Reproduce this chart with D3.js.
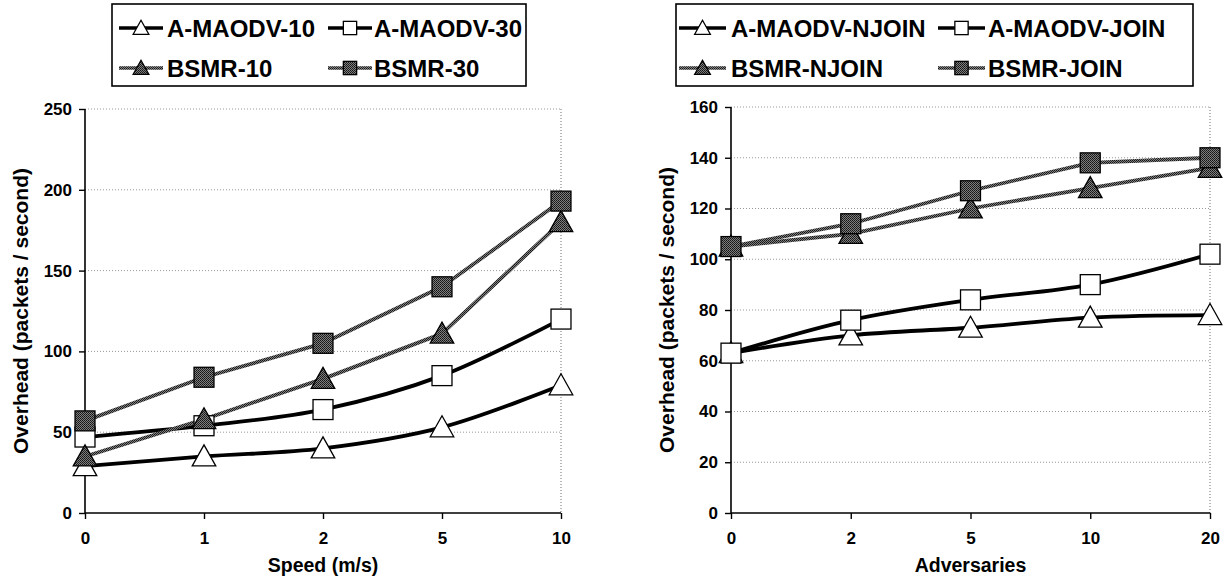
<!DOCTYPE html>
<html><head><meta charset="utf-8">
<script src="https://cdn.jsdelivr.net/npm/d3@7"></script>
<style>
html,body{margin:0;padding:0;background:#fff;}
text{font-family:"Liberation Sans",Arial,sans-serif;font-weight:bold;fill:#000;}
</style></head>
<body>
<svg id="c" width="1228" height="582"></svg>
<script>
// ---------- data ----------
const speedCats = ["0", "1", "2", "5", "10"];
const aMaodv10 = [29, 35, 40, 53, 79];
const aMaodv30 = [47, 54, 64, 85, 120];
const bsmr10   = [35, 58, 83, 111, 180];
const bsmr30   = [57, 84, 105, 140, 193];
const speedTicks = [0, 50, 100, 150, 200, 250];

const advCats = ["0", "2", "5", "10", "20"];
const aNjoin = [63, 70, 73, 77, 78];
const aJoin  = [63, 76, 84, 90, 102];
const bNjoin = [105, 110, 120, 128, 136];
const bJoin  = [105, 114, 127, 138, 140];
const advTicks = [0, 20, 40, 60, 80, 100, 120, 140, 160];

const leftNames  = ["A-MAODV-10", "A-MAODV-30", "BSMR-10", "BSMR-30"];
const rightNames = ["A-MAODV-NJOIN", "A-MAODV-JOIN", "BSMR-NJOIN", "BSMR-JOIN"];
const markerKinds = ["triOpen", "sqOpen", "triFill", "sqFill"];

// ---------- drawing ----------
const svg = d3.select("#c");
const defs = svg.append("defs");
const pat = defs.append("pattern").attr("id", "ht").attr("width", 2).attr("height", 2)
  .attr("patternUnits", "userSpaceOnUse");
pat.append("rect").attr("width", 2).attr("height", 2).attr("fill", "#7e7e7e");
pat.append("rect").attr("width", 1).attr("height", 1).attr("fill", "#141414");
pat.append("rect").attr("x", 1).attr("y", 1).attr("width", 1).attr("height", 1).attr("fill", "#242424");

function marker(g, kind, x, y, s) {
  const fill = kind.endsWith("Fill") ? "url(#ht)" : "#fff";
  if (kind.startsWith("tri")) {
    const w = s * 1.12, h = s;
    g.append("path")
      .attr("d", `M${x},${y - h * 0.55} L${x + w / 2},${y + h * 0.45} L${x - w / 2},${y + h * 0.45} Z`)
      .attr("fill", fill).attr("stroke", "#000").attr("stroke-width", 1.3);
  } else {
    const w = s * 0.95;
    g.append("rect").attr("x", x - w / 2).attr("y", y - w / 2).attr("width", w).attr("height", w)
      .attr("fill", fill).attr("stroke", "#000").attr("stroke-width", 1.3);
  }
}

function chart(cfg) {
  const g = svg.append("g");
  const x = d3.scalePoint().domain(cfg.cats).range([cfg.x0, cfg.x1]);
  const y = d3.scaleLinear().domain([0, cfg.ymax]).range([cfg.y0, cfg.y1]);

  // gridlines
  g.append("g").selectAll("line").data(cfg.ticks.filter(t => t > 0)).join("line")
    .attr("x1", cfg.x0).attr("x2", cfg.x1).attr("y1", d => y(d)).attr("y2", d => y(d))
    .attr("stroke", "#999").attr("stroke-width", 1).attr("stroke-dasharray", "1,2");
  // right border
  g.append("line").attr("x1", cfg.x1).attr("x2", cfg.x1).attr("y1", cfg.y1).attr("y2", cfg.y0)
    .attr("stroke", "#888").attr("stroke-width", 1.2).attr("stroke-dasharray", "1,2");

  // axes
  const ya = g.append("g").attr("transform", `translate(${cfg.x0},0)`)
    .call(d3.axisLeft(y).tickValues(cfg.ticks).tickSize(6).tickPadding(7).tickFormat(d3.format("d")));
  const xa = g.append("g").attr("transform", `translate(0,${cfg.y0})`)
    .call(d3.axisBottom(x).tickSize(6).tickPadding(13));
  [ya, xa].forEach(a => {
    a.attr("font-size", null).attr("font-family", null);
    a.select(".domain").attr("stroke", "#000").attr("stroke-width", 1.6);
    a.selectAll(".tick line").attr("stroke", "#000").attr("stroke-width", 1.4);
    a.selectAll(".tick text").style("font-size", "17px");
  });
  xa.select(".domain").attr("d", `M${cfg.x0},0H${cfg.x1}`);
  ya.select(".domain").attr("d", `M0,${cfg.y0}V${cfg.y1}`);

  // titles
  g.append("text").attr("x", (cfg.x0 + cfg.x1) / 2).attr("y", cfg.y0 + 59)
    .attr("text-anchor", "middle").style("font-size", "19.5px").text(cfg.xTitle);
  g.append("text").attr("transform", `translate(${cfg.x0 - 57},${(cfg.y0 + cfg.y1) / 2}) rotate(-90)`)
    .attr("text-anchor", "middle").style("font-size", "21px").text("Overhead (packets / second)");

  // series
  const smooth = d3.line().x((d, i) => x(cfg.cats[i])).y(d => y(d)).curve(d3.curveCatmullRom.alpha(0.5));
  const straight = d3.line().x((d, i) => x(cfg.cats[i])).y(d => y(d));
  cfg.series.forEach((s, k) => {
    const filled = markerKinds[k].endsWith("Fill");
    g.append("path").attr("d", filled ? straight(s) : smooth(s)).attr("fill", "none")
      .attr("stroke", filled ? "url(#ht)" : "#000").attr("stroke-width", filled ? 3.8 : 3.8)
      .attr("stroke-linejoin", "round");
  });
  cfg.series.forEach((s, k) => {
    s.forEach((v, i) => marker(g, markerKinds[k], x(cfg.cats[i]), y(v), 21));
  });

  // legend
  const L = cfg.legend;
  g.append("rect").attr("x", L.x).attr("y", L.y).attr("width", L.w).attr("height", L.h)
    .attr("fill", "#fff").attr("stroke", "#000").attr("stroke-width", 1.6);
  cfg.names.forEach((n, k) => {
    const col = k % 2, row = Math.floor(k / 2);
    const sx = L.sym[col], ly = L.rows[row];
    const filled = markerKinds[k].endsWith("Fill");
    g.append("line").attr("x1", sx).attr("x2", sx + L.symW).attr("y1", ly).attr("y2", ly)
      .attr("stroke", filled ? "url(#ht)" : "#000").attr("stroke-width", 3.6);
    marker(g, markerKinds[k], sx + L.symW / 2, ly, 14);
    g.append("text").attr("x", L.txt[col]).attr("y", ly + 8.5).style("font-size", "24px").text(n);
  });
}

chart({
  cats: speedCats, series: [aMaodv10, aMaodv30, bsmr10, bsmr30], names: leftNames,
  ticks: speedTicks, ymax: 250, x0: 85, x1: 561, y0: 513, y1: 109, xTitle: "Speed (m/s)",
  legend: {x: 112, y: 4, w: 414, h: 82, sym: [119, 328], symW: 44, txt: [167, 374], rows: [28, 68]}
});
chart({
  cats: advCats, series: [aNjoin, aJoin, bNjoin, bJoin], names: rightNames,
  ticks: advTicks, ymax: 160, x0: 731, x1: 1210, y0: 513, y1: 107, xTitle: "Adversaries",
  legend: {x: 676, y: 4, w: 517, h: 82, sym: [679, 938], symW: 47, txt: [731, 988], rows: [28, 68]}
});
</script>
</body></html>
